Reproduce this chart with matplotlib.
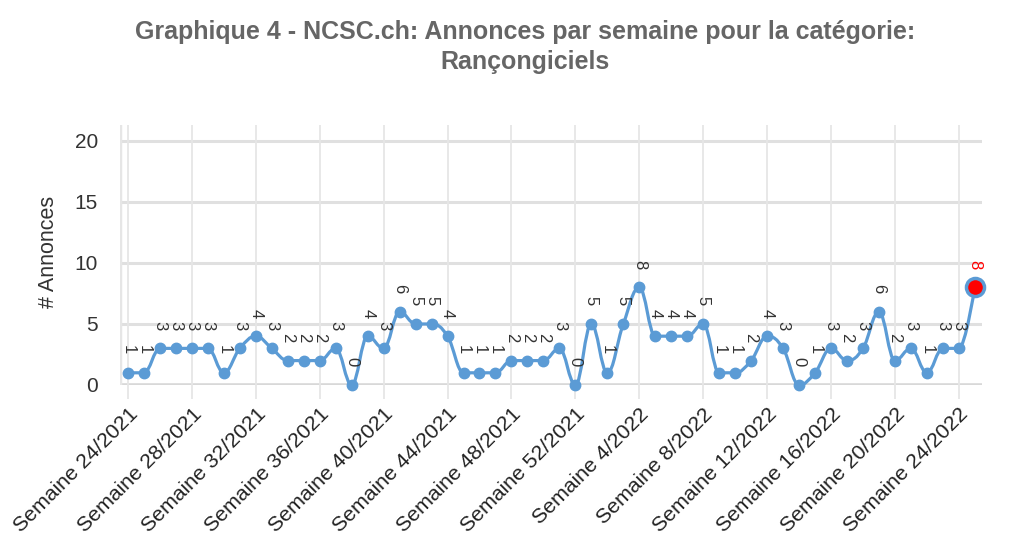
import matplotlib
matplotlib.use("Agg")
import matplotlib.pyplot as plt
from matplotlib.path import Path
from matplotlib.patches import PathPatch

plt.rcParams['font.family'] = ['Liberation Sans', 'DejaVu Sans']

weeks = [f"Semaine {w}/2021" for w in range(24, 53)] + [f"Semaine {w}/2022" for w in range(1, 26)]
values = [1, 1, 3, 3, 3, 3, 1, 3, 4, 3,
          2, 2, 2, 3, 0, 4, 3, 6, 5, 5,
          4, 1, 1, 1, 2, 2, 2, 3, 0, 5,
          1, 5, 8, 4, 4, 4, 5, 1, 1, 2,
          4, 3, 0, 1, 3, 2, 3, 6, 2, 3,
          1, 3, 3, 8]
title = "Graphique 4 - NCSC.ch: Annonces par semaine pour la catégorie:\nRançongiciels"
ylabel = "# Annonces"
yticks = [0, 5, 10, 15, 20]

LINE = "#5b9bd5"
GRID = "#e6e6e6"


def spline_path(xs, ys, smoothing=1.5):
    n = len(xs)
    denom = smoothing + 1
    left = [None] * n
    right = [None] * n
    for i in range(1, n - 1):
        px, py = xs[i], ys[i]
        lx, ly = xs[i - 1], ys[i - 1]
        nx, ny = xs[i + 1], ys[i + 1]
        lcx = (smoothing * px + lx) / denom
        lcy = (smoothing * py + ly) / denom
        rcx = (smoothing * px + nx) / denom
        rcy = (smoothing * py + ny) / denom
        if rcx != lcx:
            corr = ((rcy - lcy) * (rcx - px)) / (rcx - lcx) + py - rcy
            lcy += corr
            rcy += corr
        if lcy > ly and lcy > py:
            lcy = max(ly, py)
            rcy = 2 * py - lcy
        elif lcy < ly and lcy < py:
            lcy = min(ly, py)
            rcy = 2 * py - lcy
        if rcy > ny and rcy > py:
            rcy = max(ny, py)
            lcy = 2 * py - rcy
        elif rcy < ny and rcy < py:
            rcy = min(ny, py)
            lcy = 2 * py - rcy
        left[i] = (lcx, lcy)
        right[i] = (rcx, rcy)
    left[n - 1] = (xs[n - 1], ys[n - 1])
    right[0] = (xs[0], ys[0])
    verts = [(xs[0], ys[0])]
    codes = [Path.MOVETO]
    for i in range(1, n):
        verts += [right[i - 1], left[i], (xs[i], ys[i])]
        codes += [Path.CURVE4] * 3
    return Path(verts, codes)


fig = plt.figure(figsize=(10.24, 5.59), dpi=100)
ax = fig.add_axes([120 / 1024, 1 - 385 / 559, (982 - 120) / 1024, (385 - 125) / 559])

x = list(range(len(values)))
ax.set_xlim(-0.5, 53.45)
ax.set_ylim(0, 21.3)

for y in yticks:
    ax.axhline(y, color="#e0e0e0", lw=2.2, zorder=0)
ax.axhline(0, color="#d8d8d8", lw=2.6, zorder=0)
ax.axvline(-0.5, color=GRID, lw=2.5, zorder=0)
tick_pos = list(range(0, len(values), 4))
for t in tick_pos:
    ax.axvline(t, color=GRID, lw=1.3, zorder=0)

patch = PathPatch(spline_path(x, values), facecolor="none", edgecolor=LINE, lw=2.3, zorder=2, clip_on=False)
ax.add_patch(patch)
ax.plot(x[:-1], values[:-1], 'o', color=LINE, ms=7.5, zorder=3, clip_on=False)
ax.plot(x[-1:], values[-1:], 'o', markerfacecolor="red", markeredgecolor=LINE, mew=2.5, ms=13, zorder=4, clip_on=False)

for i, v in enumerate(values):
    col = "red" if i == len(values) - 1 else "#333333"
    ax.annotate(str(v), (i, v), xytext=(0, 23), textcoords="offset pixels",
                rotation=-90, ha="center", va="center", fontsize=12, color=col, zorder=5)

for s in ax.spines.values():
    s.set_visible(False)

ax.set_yticks(yticks)
ax.set_yticklabels([str(v) for v in yticks], fontsize=15, color="#333333")
ax.tick_params(axis="y", length=0, pad=16)
ax.set_xticks(tick_pos)
ax.set_xticklabels([weeks[t] for t in tick_pos], rotation=45, ha="right", rotation_mode="anchor",
                   fontsize=15.3, color="#222222")
ax.tick_params(axis="x", length=10, width=1.3, color=GRID, pad=4)

fig.text(48 / 1024, 1 - 252 / 559, ylabel, rotation=90, ha="center", va="center", fontsize=15.5, color="#333333")
fig.text(525 / 1024, 1 - 47 / 559, title, ha="center", va="center", fontsize=18, fontweight="bold",
         color="#666666", linespacing=1.3)

fig.savefig("out.png", dpi=100, facecolor="white")
